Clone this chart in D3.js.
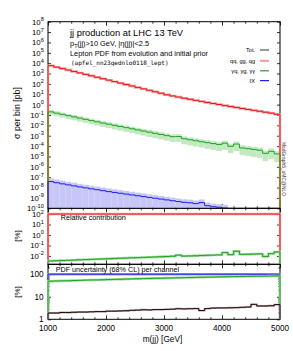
<!DOCTYPE html>
<html>
<head>
<meta charset="utf-8">
<script src="https://cdn.jsdelivr.net/npm/d3@7"></script>
<style>
body { margin: 0; background: #fff; }
svg { display: block; font-family: "Liberation Sans", Arial, sans-serif; }
</style>
</head>
<body>
<svg id="chart" width="293" height="351"></svg>
<script>
// m(jj) bins (lower edges, GeV), 100 GeV wide
const mjjBins = [1000, 1100, 1200, 1300, 1400, 1500, 1600, 1700, 1800, 1900,
    2000, 2100, 2200, 2300, 2400, 2500, 2600, 2700, 2800, 2900,
    3000, 3100, 3200, 3300, 3400, 3500, 3600, 3700, 3800, 3900,
    4000, 4100, 4200, 4300, 4400, 4500, 4600, 4700, 4800, 4900];
const binWidth = 100;

// sigma per bin [pb]
const qqXsec = [5.75e3, 4.17e3, 3.02e3, 2.19e3, 1.58e3, 1.15e3, 832, 603, 437, 316,
    229, 166, 120, 87.1, 63.1, 45.7, 33.1, 24.0, 17.4, 12.6,
    8.91, 6.92, 5.37, 4.17, 3.31, 2.57, 2.04, 1.62, 1.29, 1.02,
    0.813, 0.661, 0.537, 0.427, 0.347, 0.282, 0.229, 0.186, 0.151, 0.117];
const gammaXsec = [2.00e-1, 1.51e-1, 1.15e-1, 8.71e-2, 6.61e-2, 5.01e-2, 3.80e-2, 2.88e-2, 2.19e-2, 1.66e-2,
    1.29e-2, 1.00e-2, 7.76e-3, 6.03e-3, 4.68e-3, 3.63e-3, 2.82e-3, 2.19e-3, 1.70e-3, 1.32e-3,
    1.02e-3, 8.13e-4, 8.32e-4, 5.13e-4, 4.07e-4, 3.31e-4, 2.63e-4, 2.14e-4, 1.74e-4, 1.41e-4,
    1.91e-4, 9.55e-5, 1.58e-4, 6.61e-5, 5.62e-5, 4.79e-5, 3.98e-5, 2.00e-5, 3.16e-5, 1.78e-5];
const leptonXsec = [3.80e-8, 2.95e-8, 2.29e-8, 1.82e-8, 1.45e-8, 1.15e-8, 9.33e-9, 7.59e-9, 6.17e-9, 5.01e-9,
    4.07e-9, 3.39e-9, 2.82e-9, 2.34e-9, 1.95e-9, 1.62e-9, 1.35e-9, 1.12e-9, 9.33e-10, 7.76e-10,
    6.46e-10, 5.37e-10, 4.47e-10, 3.72e-10, 3.39e-10, 2.82e-10, 3.55e-10, 1.78e-10, 1.41e-10, 1.26e-10,
    1.07e-10, 5.62e-11, 3.98e-11, 3.16e-11, 2.51e-11, 2.00e-11, 1.58e-11, 1.26e-11, 1.00e-11, 7.94e-12];

// relative contribution [%]
const qqRelContrib = [99.99, 99.99, 99.99, 99.99, 99.99, 99.99, 99.99, 99.99, 99.99, 99.99,
    99.99, 99.99, 99.99, 99.99, 99.99, 99.99, 99.99, 99.99, 99.99, 99.99,
    99.99, 99.99, 99.99, 99.99, 99.99, 99.99, 99.99, 99.99, 99.99, 99.99,
    99.98, 99.99, 99.97, 99.99, 99.99, 99.98, 99.98, 99.99, 99.98, 99.98];
const gammaRelContrib = [3.31e-3, 3.47e-3, 3.63e-3, 3.80e-3, 3.98e-3, 4.27e-3, 4.47e-3, 4.68e-3, 4.90e-3, 5.13e-3,
    5.37e-3, 5.62e-3, 6.03e-3, 6.31e-3, 6.61e-3, 6.92e-3, 7.24e-3, 7.59e-3, 7.94e-3, 8.32e-3,
    8.71e-3, 9.33e-3, 1.20e-2, 9.55e-3, 1.00e-2, 1.05e-2, 1.10e-2, 1.15e-2, 1.20e-2, 1.26e-2,
    2.09e-2, 1.32e-2, 2.82e-2, 1.41e-2, 1.45e-2, 1.51e-2, 1.58e-2, 8.91e-3, 1.66e-2, 2.40e-2];

// PDF uncertainty (68% CL) per channel [%]
const totPdfUnc = [1.9, 1.9, 2.0, 2.0, 2.05, 2.1, 2.1, 2.15, 2.2, 2.2,
    2.3, 2.3, 2.35, 2.4, 2.5, 2.55, 2.65, 2.6, 2.7, 2.7,
    2.75, 2.8, 2.95, 2.9, 2.95, 3.0, 2.45, 3.0, 3.15, 3.2,
    3.2, 3.25, 3.3, 3.4, 3.5, 4.6, 3.9, 3.9, 4.0, 4.5];
const qqPdfUnc = totPdfUnc; // qq channel dominates, lies under the total
const gammaPdfUnc = [49, 50, 51, 51.5, 52.5, 53.5, 54.5, 55.5, 56, 57,
    58, 59, 60, 61, 62, 63, 64, 65, 66, 66.5,
    67.5, 68.5, 69.5, 70.5, 71.5, 72.5, 73, 74, 75, 76,
    77, 78, 78.5, 79.5, 80, 81, 81.5, 82, 83, 84];
const leptonPdfUnc = [100, 100, 100, 100, 100, 100, 100, 100, 100, 100,
    100, 100, 100, 100, 100, 100, 100, 100, 100, 100,
    100, 100, 100, 100, 100, 100, 100, 100, 100, 100,
    100, 100, 100, 100, 100, 100, 100, 100, 100, 100];

// axis ticks
const xMajor = [1000, 2000, 3000, 4000, 5000];
const xMinor = [1200, 1400, 1600, 1800, 2200, 2400, 2600, 2800, 3200, 3400, 3600, 3800, 4200, 4400, 4600, 4800];
const mainExps = [8, 7, 6, 5, 4, 3, 2, 1, 0, -1, -2, -3, -4, -5, -6, -7, -8, -9, -10];
const relExps = [2, 1, 0, -1, -2];
const uncMajor = [1, 10, 100];
const uncMinor = [2, 3, 4, 5, 6, 7, 8, 9, 20, 30, 40, 50, 60, 70, 80, 90, 200];

const legendItems = [
    {label: "Tot.", color: "#999999", width: 2},
    {label: "qq, gg, qg", color: "#f49a9a", width: 2},
    {label: "γq, γg, γγ", color: "#22a322", width: 1.2},
    {label: "ℓX", color: "#2222e0", width: 1.2}
];

const colors = {
    red: "#e8161b", redHalo: "#f6a5a5",
    green: "#1fa21f", greenHalo: "#9ed99e", greenBand: "#c3e9c3",
    blue: "#2020e0", blueHalo: "#9c9cf4", blueBand: "#c6c6f8",
    black: "#111111"
};

const svg = d3.select("#chart");
const left = 48, right = 280;

const x = d3.scaleLinear().domain([1000, 5000]).range([left, right]);

const panels = {
    main: {top: 21.7, bottom: 208.3},
    rel: {top: 208.3, bottom: 264.3},
    unc: {top: 264.3, bottom: 319.3}
};
const yMain = d3.scaleLog().domain([1e-10, 1e8]).range([panels.main.bottom, panels.main.top]);
const yRel = d3.scaleLog().domain([Math.pow(10, -2.8), Math.pow(10, 2.55)]).range([panels.rel.bottom, panels.rel.top]);
const yUnc = d3.scaleLog().domain([1, Math.pow(10, 2.44)]).range([panels.unc.bottom, panels.unc.top]);

// clip each panel (a bit wider so the edge steps show on the frame)
const defs = svg.append("defs");
Object.entries(panels).forEach(([k, p]) => {
    defs.append("clipPath").attr("id", "clip-" + k)
        .append("rect")
        .attr("x", left - 1).attr("y", p.top)
        .attr("width", right - left + 2).attr("height", p.bottom - p.top);
});

// histogram step path, starting and ending at the panel floor
function stepPath(vals, y) {
    const floor = y.range()[0];
    const pts = [[x(mjjBins[0]), floor]];
    vals.forEach((v, i) => {
        const yy = v > 0 ? y(v) : floor + 20;
        pts.push([x(mjjBins[i]), yy], [x(mjjBins[i] + binWidth), yy]);
    });
    pts.push([x(mjjBins[mjjBins.length - 1] + binWidth), floor]);
    return d3.line()(pts);
}

function drawLine(g, vals, y, color, halo, haloWidth) {
    if (halo) {
        g.append("path").attr("d", stepPath(vals, y))
            .attr("fill", "none").attr("stroke", halo).attr("stroke-width", haloWidth || 2.4);
    }
    g.append("path").attr("d", stepPath(vals, y))
        .attr("fill", "none").attr("stroke", color).attr("stroke-width", 1);
}

// uncertainty band per bin
function drawBand(g, vals, unc, y, color) {
    const floor = y.range()[0];
    g.selectAll(null)
        .data(mjjBins)
        .enter()
        .append("rect")
            .attr("x", d => x(d))
            .attr("width", d => x(d + binWidth) - x(d))
            .attr("y", (d, i) => y(vals[i] * (1 + unc[i] / 100)))
            .attr("height", (d, i) => {
                const lo = vals[i] * (1 - unc[i] / 100);
                const yLo = lo > 0 ? Math.min(y(lo), floor + 5) : floor + 5;
                return Math.max(0, yLo - y(vals[i] * (1 + unc[i] / 100)));
            })
            .attr("fill", color);
}

// frame + ticks for a panel
function drawFrame(p, y, yMajorVals, yMinorVals) {
    const axes = svg.append("g").attr("color", "#000");
    const sw = 0.8;
    [[p.top, d3.axisBottom], [p.bottom, d3.axisTop]].forEach(([yy, ax]) => {
        axes.append("g").attr("transform", `translate(0,${yy})`)
            .call(ax(x).tickValues(xMajor).tickSize(4).tickFormat(""))
            .call(g => g.select(".domain").remove());
        axes.append("g").attr("transform", `translate(0,${yy})`)
            .call(ax(x).tickValues(xMinor).tickSize(2).tickFormat(""))
            .call(g => g.select(".domain").remove());
    });
    [[left, d3.axisRight], [right, d3.axisLeft]].forEach(([xx, ax]) => {
        axes.append("g").attr("transform", `translate(${xx},0)`)
            .call(ax(y).tickValues(yMajorVals).tickSize(3).tickFormat(""))
            .call(g => g.select(".domain").remove());
        if (yMinorVals) {
            axes.append("g").attr("transform", `translate(${xx},0)`)
                .call(ax(y).tickValues(yMinorVals).tickSize(1.6).tickFormat(""))
                .call(g => g.select(".domain").remove());
        }
    });
    axes.selectAll("line").attr("stroke-width", sw);
    svg.append("rect")
        .attr("x", left).attr("y", p.top)
        .attr("width", right - left).attr("height", p.bottom - p.top)
        .attr("fill", "none").attr("stroke", "#000").attr("stroke-width", 1);
}

// power-of-ten labels
function powLabels(exps, y) {
    exps.forEach(e => {
        const t = svg.append("text")
            .attr("x", 43.8).attr("y", y(Math.pow(10, e)) + 2.9)
            .attr("text-anchor", "end")
            .attr("font-size", 7.8);
        t.append("tspan").text("10");
        t.append("tspan").attr("dy", -3.4).attr("font-size", 5.6).text(e);
    });
}

// ---------- main panel ----------
drawFrame(panels.main, yMain, mainExps.map(e => Math.pow(10, e)));
const gMain = svg.append("g").attr("clip-path", "url(#clip-main)");
drawBand(gMain, leptonXsec, leptonPdfUnc, yMain, colors.blueBand);
drawBand(gMain, gammaXsec, gammaPdfUnc, yMain, colors.greenBand);
drawLine(gMain, qqXsec, yMain, colors.red, colors.redHalo);
drawLine(gMain, gammaXsec, yMain, colors.green, null);
drawLine(gMain, leptonXsec, yMain, colors.blue, null);
powLabels(mainExps, yMain);

// ---------- relative contribution ----------
drawFrame(panels.rel, yRel, relExps.map(e => Math.pow(10, e)));
const gRel = svg.append("g").attr("clip-path", "url(#clip-rel)");
drawLine(gRel, qqRelContrib, yRel, colors.red, colors.redHalo);
drawLine(gRel, gammaRelContrib, yRel, colors.green, colors.greenHalo);
powLabels(relExps, yRel);

// ---------- PDF uncertainty ----------
drawFrame(panels.unc, yUnc, uncMajor, uncMinor);
const gUnc = svg.append("g").attr("clip-path", "url(#clip-unc)");
drawLine(gUnc, leptonPdfUnc, yUnc, colors.blue, colors.blueHalo);
drawLine(gUnc, gammaPdfUnc, yUnc, colors.green, colors.greenHalo);
drawLine(gUnc, qqPdfUnc, yUnc, "#e9a3a3", null);
drawLine(gUnc, totPdfUnc, yUnc, colors.black, "#c99a9a", 1.8);
uncMajor.forEach(v => {
    svg.append("text")
        .attr("x", 43.6).attr("y", yUnc(v) + 3)
        .attr("text-anchor", "end").attr("font-size", 8.2)
        .text(v);
});

// x tick labels + title
xMajor.forEach(v => {
    svg.append("text")
        .attr("x", x(v)).attr("y", 331.2)
        .attr("text-anchor", "middle").attr("font-size", 8.2)
        .text(v);
});
svg.append("text").attr("x", 162.5).attr("y", 342.2)
    .attr("text-anchor", "middle").attr("font-size", 8.3)
    .text("m(jj) [GeV]");

// y titles
svg.append("text")
    .attr("transform", "translate(20.2,113) rotate(-90)")
    .attr("text-anchor", "middle").attr("font-size", 8.8)
    .text("σ per bin [pb]");
[236, 292].forEach(cy => {
    svg.append("text")
        .attr("transform", `translate(19.8,${cy}) rotate(-90)`)
        .attr("text-anchor", "middle").attr("font-size", 8)
        .text("[%]");
});

// panel annotations
svg.append("text").attr("x", 70).attr("y", 36.2).attr("font-size", 9.3)
    .text("jj production at LHC 13 TeV");
const sub = svg.append("text").attr("x", 70).attr("y", 46.2).attr("font-size", 7.4);
sub.append("tspan").text("p");
sub.append("tspan").attr("dy", 1.6).attr("font-size", 5.2).text("T");
sub.append("tspan").attr("dy", -1.6).text("(jj)>10 GeV, |η(jj)|<2.5");
svg.append("text").attr("x", 70).attr("y", 55.6).attr("font-size", 7.4)
    .text("Lepton PDF from evolution and initial prior");
svg.append("text").attr("x", 71).attr("y", 64.8).attr("font-size", 6)
    .attr("font-family", "'DejaVu Sans Mono', monospace")
    .text("(apfel_nn23qednlo0118_lept)");

svg.append("text").attr("x", 60.7).attr("y", 219.8).attr("font-size", 7.2)
    .text("Relative contribution");
svg.append("text").attr("x", 55.7).attr("y", 271.9).attr("font-size", 7.2)
    .text("PDF uncertainty (68% CL) per channel");

svg.append("text")
    .attr("transform", "translate(282.2,169) rotate(90)")
    .attr("text-anchor", "middle").attr("font-size", 4.9).attr("fill", "#333")
    .text("MadGraph5_aMC@NLO");

// legend
const legendY = [50, 60.8, 70.8, 80.6];
legendItems.forEach((d, i) => {
    svg.append("text")
        .attr("x", 255).attr("y", legendY[i] + 2)
        .attr("text-anchor", "end").attr("font-size", 5.6)
        .text(d.label);
    svg.append("line")
        .attr("x1", 260).attr("x2", 269)
        .attr("y1", legendY[i]).attr("y2", legendY[i])
        .attr("stroke", d.color).attr("stroke-width", d.width);
});
</script>
</body>
</html>
